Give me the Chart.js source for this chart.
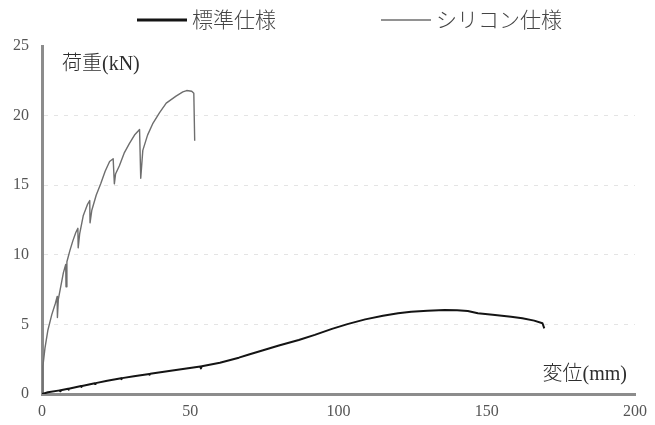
<!DOCTYPE html>
<html>
<head>
<meta charset="utf-8">
<script src="https://cdn.jsdelivr.net/npm/chart.js@4/dist/chart.umd.min.js"></script>
<style>
  body { margin: 0; background: #fff; }
  canvas { display: block; }
</style>
</head>
<body>
<canvas id="loadChart" width="655" height="425"></canvas>
<script>
// Series data (displacement mm / load kN)
const seriesNames = ['標準仕様', 'シリコン仕様']

const standardX = [0, 2, 6.0, 6.1, 6.3, 8.8, 8.9, 9.1, 13.2, 13.3, 13.5, 17.8, 17.9, 18.1, 22, 26.7, 26.8, 27.0,
  31, 36.2, 36.3, 36.5, 44, 53.4, 53.6, 53.9, 60, 66.4, 69.8, 74.3, 79.9, 86.6, 92, 97.8, 103, 109, 115,
  120.1, 124.5, 130, 135.8, 140, 143.6, 147, 152, 158.2, 162, 166, 168.8, 169.4]
const standardY = [0, 0.12, 0.26, 0.2, 0.27, 0.37, 0.31, 0.38, 0.57, 0.51, 0.58, 0.77, 0.71, 0.78, 0.95, 1.13, 1.07, 1.14,
  1.27, 1.44, 1.38, 1.45, 1.68, 1.97, 1.84, 1.99, 2.25, 2.61, 2.84, 3.12, 3.48, 3.88, 4.25, 4.68, 5.02, 5.36, 5.62,
  5.80, 5.91, 5.98, 6.03, 6.02, 5.96, 5.80, 5.70, 5.55, 5.44, 5.27, 5.08, 4.72]

const siliconX = [0, 0.3, 1, 2, 3.3, 4.5, 5.1, 5.2, 5.5, 6.4, 7.2, 8.0, 8.1, 8.4, 9.4, 10.4, 11.4, 12.1, 12.2, 12.7,
  13.9, 15.3, 16.1, 16.2, 16.8, 18.3, 19.8, 21.3, 22.8, 24.0, 24.4, 24.8, 26.1, 27.7, 29.5, 31.2, 32.9, 33.3,
  34.0, 35.6, 37.3, 39.6, 41.9, 45.2, 47.5, 48.8, 50.5, 51.2, 51.5]
const siliconY = [0, 2, 3.3, 4.6, 5.7, 6.5, 7.0, 5.5, 6.8, 7.8, 8.7, 9.3, 7.7, 9.5, 10.3, 11, 11.6, 11.9, 10.5, 11.5,
  12.8, 13.6, 13.9, 12.3, 13.2, 14.3, 15.1, 16, 16.7, 16.9, 15.1, 15.8, 16.4, 17.3, 18.0, 18.6, 19.0, 15.5,
  17.5, 18.6, 19.4, 20.2, 20.9, 21.4, 21.7, 21.8, 21.75, 21.6, 18.2]

const xTicks = [0, 50, 100, 150, 200]
const yTicks = [0, 5, 10, 15, 20, 25]
const xTitle = '変位(mm)'
const yTitle = '荷重(kN)'

const serifFont = '"Liberation Serif", "DejaVu Serif", "Noto Sans CJK JP", serif'

function toPoints(xs, ys) {
    return xs.map((x, i) => ({ x: x, y: ys[i] }))
}

// Legend and axis titles drawn inside the plot like the original
const annotations = {
    id: 'annotations',
    afterDraw(chart) {
        const ctx = chart.ctx
        const area = chart.chartArea
        ctx.save()
        ctx.font = '300 21px ' + serifFont
        ctx.textBaseline = 'middle'
        ctx.textAlign = 'left'

        let x = 137
        chart.data.datasets.forEach(ds => {
            ctx.strokeStyle = ds.borderColor
            ctx.lineWidth = ds.legendWidth
            ctx.beginPath()
            ctx.moveTo(x, 20)
            ctx.lineTo(x + 50, 20)
            ctx.stroke()
            ctx.fillStyle = '#444'
            ctx.fillText(ds.label, x + 55, 21)
            x += 55 + ctx.measureText(ds.label).width + 105
        })

        ctx.font = '300 20px ' + serifFont
        ctx.fillStyle = '#2e2e2e'
        ctx.fillText(yTitle, area.left + 20, area.top + 19)
        ctx.textAlign = 'right'
        ctx.fillText(xTitle, area.right - 8, area.bottom - 19)
        ctx.restore()
    }
}

new Chart(document.getElementById('loadChart'), {
    type: 'scatter',
    data: {
        datasets: [{
            label: seriesNames[0],
            data: toPoints(standardX, standardY),
            showLine: true,
            borderColor: '#141414',
            borderWidth: 2,
            borderJoinStyle: 'round',
            legendWidth: 3,
            pointRadius: 0,
            tension: 0
        }, {
            label: seriesNames[1],
            data: toPoints(siliconX, siliconY),
            showLine: true,
            borderColor: '#6e6e6e',
            borderWidth: 1.4,
            borderJoinStyle: 'round',
            legendWidth: 1.6,
            pointRadius: 0,
            tension: 0
        }]
    },
    options: {
        responsive: false,
        animation: false,
        devicePixelRatio: 1,
        layout: { padding: { top: 46, right: 17, left: 0, bottom: 0 } },
        plugins: {
            legend: { display: false },
            tooltip: { enabled: false }
        },
        scales: {
            x: {
                type: 'linear',
                min: xTicks[0],
                max: xTicks[xTicks.length - 1],
                afterBuildTicks: scale => { scale.ticks = xTicks.map(v => ({ value: v })) },
                afterFit: scale => { scale.height = 31 },
                ticks: {
                    color: '#555',
                    padding: 8,
                    font: { family: serifFont, size: 16 }
                },
                grid: { drawOnChartArea: false, drawTicks: false },
                border: { color: '#8c8c8c', width: 3 }
            },
            y: {
                min: yTicks[0],
                max: yTicks[yTicks.length - 1],
                afterBuildTicks: scale => { scale.ticks = yTicks.map(v => ({ value: v })) },
                afterFit: scale => { scale.width = 42 },
                ticks: {
                    color: '#555',
                    padding: 13,
                    font: { family: serifFont, size: 16 }
                },
                grid: {
                    drawTicks: false,
                    lineWidth: 1,
                    color: ctx => (ctx.tick && ctx.tick.value > 0 && ctx.tick.value < 25) ? '#e4e4e4' : 'rgba(0,0,0,0)'
                },
                border: { color: '#8c8c8c', width: 3, dash: [4, 6] }
            }
        }
    },
    plugins: [annotations]
})
</script>
</body>
</html>
